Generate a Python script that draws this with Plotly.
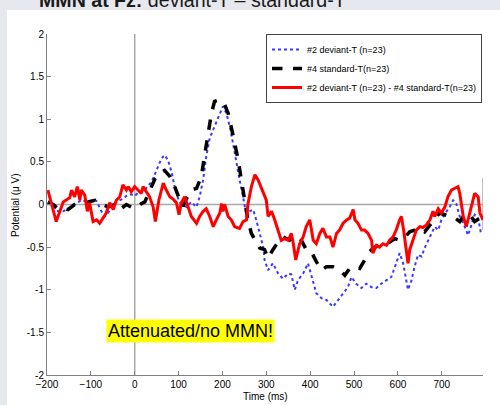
import plotly.graph_objects as go

# ---------------- data ----------------
dev_t = [-198,-186,-175,-163,-152,-137,-122,-106,-95,-87,-76,-68,-61,-49,-42,-30,-19,-8,0,8,15,23,30,38,46,53,61,68,76,84,91,99,106,118,129,141,148,156,163,171,182,194,201,209,217,224,232,239,247,255,262,270,277,285,293,296,304,315,327,338,350,357,365,372,384,395,403,414,426,437,452,464,475,486,494,505,517,528,540,551,562,574,585,596,604,612,619,623,631,638,646,654,661,673,684,692,699,711,718,726,733,741,749,760,768,775,783,790]
dev_v = [0.02,-0.02,-0.08,-0.08,-0.05,0.0,0.05,0.03,0.06,0.04,-0.08,-0.14,-0.1,0.0,0.03,0.06,0.1,0.12,0.1,0.14,0.14,0.17,0.22,0.26,0.36,0.45,0.54,0.58,0.52,0.38,0.21,0.07,0.0,-0.03,0.03,-0.03,0.09,0.29,0.56,0.78,0.91,1.07,1.15,1.07,0.91,0.72,0.48,0.29,0.09,-0.14,-0.08,-0.06,-0.18,-0.34,-0.5,-0.65,-0.77,-0.69,-0.81,-0.87,-0.81,-0.82,-1.0,-0.89,-0.81,-0.69,-0.85,-1.04,-1.1,-1.12,-1.2,-1.12,-1.04,-0.97,-0.85,-0.93,-0.98,-0.93,-0.97,-0.98,-0.93,-0.89,-0.85,-0.69,-0.57,-0.69,-0.89,-1.0,-0.89,-0.73,-0.59,-0.61,-0.51,-0.38,-0.26,-0.3,-0.18,-0.08,-0.03,0.05,0.01,-0.14,-0.22,-0.36,-0.22,-0.12,-0.16,-0.36]

std_t = [-198,-186,-175,-163,-152,-137,-122,-106,-91,-76,-61,-46,-34,-19,-8,4,15,23,34,46,57,68,80,91,103,110,118,129,141,152,160,167,175,182,194,205,213,220,228,236,243,251,258,266,274,285,296,304,315,327,338,353,369,380,391,402,414,426,437,452,467,479,490,502,513,524,536,547,559,570,582,593,604,616,627,638,650,661,673,684,695,707,718,730,741,752,764,775,787,794]
std_v = [0.03,0.0,-0.05,-0.04,-0.06,0.0,0.01,0.03,0.05,0.01,-0.03,0.0,-0.06,0.0,-0.03,-0.04,0.01,0.03,0.15,0.3,0.37,0.4,0.33,0.21,0.05,-0.02,0.07,0.17,0.19,0.33,0.6,0.84,1.07,1.21,1.23,1.17,1.07,0.91,0.72,0.52,0.29,0.05,-0.18,-0.34,-0.42,-0.51,-0.53,-0.63,-0.53,-0.44,-0.38,-0.42,-0.36,-0.42,-0.53,-0.55,-0.67,-0.77,-0.73,-0.73,-0.77,-0.83,-0.75,-0.73,-0.75,-0.65,-0.55,-0.5,-0.48,-0.46,-0.44,-0.4,-0.42,-0.38,-0.32,-0.3,-0.28,-0.32,-0.24,-0.18,-0.1,-0.12,-0.14,-0.16,-0.2,-0.12,-0.12,-0.2,-0.16,-0.17]

diff_t = [-198,-179,-163,-148,-144,-137,-131,-125,-122,-114,-108,-103,-95,-87,-80,-72,-65,-57,-49,-42,-34,-27,-19,-15,-8,0,8,15,19,27,34,42,47,55,65,72,80,88,95,101,106,114,122,129,141,148,156,163,171,179,186,194,198,201,205,213,220,228,239,247,255,258,266,274,281,289,296,300,304,312,319,327,334,342,350,357,361,367,376,384,391,399,407,414,422,429,437,445,452,460,467,475,483,490,498,502,509,517,524,532,540,543,551,558,566,574,581,589,596,604,608,613,619,623,627,635,642,650,657,665,673,680,684,692,699,707,714,722,730,737,741,749,756,764,771,775,783,787,794]
diff_v = [0.17,-0.2,0.03,0.08,0.17,0.09,0.21,0.05,0.17,0.11,-0.08,0.02,-0.2,-0.18,-0.22,-0.16,-0.1,0.02,-0.06,0.05,0.09,0.23,0.17,0.21,0.15,0.21,0.17,0.13,0.21,0.15,0.09,-0.03,-0.2,0.05,0.25,0.17,0.09,0.06,0.02,-0.12,0.02,0.09,-0.04,-0.14,-0.22,-0.14,-0.08,-0.05,-0.14,-0.26,-0.18,-0.1,0.01,-0.08,0.0,-0.14,-0.18,-0.26,-0.28,-0.2,-0.18,0.0,0.21,0.35,0.29,0.19,0.09,0.05,-0.14,-0.08,-0.18,-0.3,-0.42,-0.4,-0.42,-0.34,-0.44,-0.65,-0.46,-0.38,-0.26,-0.18,-0.42,-0.46,-0.34,-0.28,-0.38,-0.38,-0.5,-0.34,-0.3,-0.22,-0.18,-0.16,-0.06,-0.18,-0.22,-0.3,-0.3,-0.34,-0.42,-0.57,-0.48,-0.5,-0.46,-0.48,-0.42,-0.38,-0.3,-0.18,-0.14,-0.3,-0.5,-0.69,-0.53,-0.42,-0.3,-0.26,-0.27,-0.24,-0.18,-0.08,-0.14,-0.05,-0.1,-0.03,0.09,0.17,0.19,0.21,0.13,-0.14,-0.26,-0.1,0.07,0.13,0.09,-0.1,-0.18]

names = ["#2 deviant-T (n=23)", "#4 standard-T(n=23)", "#2 deviant-T (n=23) - #4 standard-T(n=23)"]
x_ticks = [-200, -100, 0, 100, 200, 300, 400, 500, 600, 700]
y_ticks = [-2, -1.5, -1, -0.5, 0, 0.5, 1, 1.5, 2]
y_tick_text = ["-2", "-1.5", "-1", "-0.5", "0", "0.5", "1", "1.5", "2"]
X_RANGE = [-200, 794]
Y_RANGE = [-2, 2]

FONT = "Liberation Sans, Arial, Helvetica, sans-serif"
AXC = "#808080"

fig = go.Figure()
fig.add_trace(go.Scatter(x=dev_t, y=dev_v, mode="lines", name=names[0],
                         line=dict(color="#3a3aff", width=2, dash="dot")))
fig.add_trace(go.Scatter(x=std_t, y=std_v, mode="lines", name=names[1],
                         line=dict(color="black", width=3.5, dash="dash")))
fig.add_trace(go.Scatter(x=diff_t, y=diff_v, mode="lines", name=names[2],
                         line=dict(color="#ff0000", width=3)))

L, T, R, B = 47, 34, 17, 30
W, H = 500, 405
pw, ph = W - L - R, H - T - B
def px2x(px): return (px - L) / pw
def py2y(py): return (H - B - py) / ph

shapes = [
    dict(type="line", xref="x", yref="y", x0=0, x1=0, y0=-2, y1=2,
         line=dict(color="#a8a8a8", width=1.5), layer="below"),
    dict(type="line", xref="x", yref="y", x0=X_RANGE[0], x1=X_RANGE[1], y0=0, y1=0,
         line=dict(color="#a8a8a8", width=1.5), layer="below"),
    dict(type="line", xref="x", yref="y", x0=X_RANGE[1], x1=X_RANGE[1], y0=0.31, y1=-0.3,
         line=dict(color="#a8a8a8", width=1.5), layer="below"),
    dict(type="rect", xref="paper", yref="paper", x0=px2x(0), x1=px2x(7), y0=py2y(405), y1=py2y(0),
         fillcolor="#e7e8ed", line=dict(width=0), layer="below"),
    dict(type="rect", xref="paper", yref="paper", x0=px2x(0), x1=px2x(500), y0=py2y(10), y1=py2y(0),
         fillcolor="#e7e8ed", line=dict(width=0), layer="below"),
]

annotations = [
    dict(text="Attenuated/no MMN!", x=px2x(190.5), y=py2y(330.5), xref="paper", yref="paper",
         xanchor="center", yanchor="middle",
         showarrow=False, bgcolor="#ffff00", font=dict(family=FONT, size=18, color="black"),
         borderpad=1),
    dict(text="Potential (μ V)", x=px2x(15), y=py2y(205), xref="paper", yref="paper",
         xanchor="center", yanchor="middle",
         showarrow=False, textangle=-90, font=dict(family=FONT, size=10, color="black")),
    dict(text="Time (ms)", x=px2x(265), y=py2y(396), xref="paper", yref="paper",
         xanchor="center", yanchor="middle",
         showarrow=False, font=dict(family=FONT, size=10, color="black")),
    dict(text="<b>MMN at Fz:</b> deviant-T – standard-T", x=px2x(37), y=py2y(13),
         xref="paper", yref="paper", xanchor="left", yanchor="bottom", showarrow=False,
         font=dict(family=FONT, size=19.6, color="#1a1a1a")),
]

fig.update_layout(
    width=W, height=H,
    margin=dict(l=L, r=R, t=T, b=B, autoexpand=False),
    paper_bgcolor="white", plot_bgcolor="white",
    font=dict(family=FONT, size=10, color="black"),
    shapes=shapes, annotations=annotations,
    legend=dict(x=px2x(482), y=1.0, xanchor="right", yanchor="top",
                bgcolor="white", bordercolor="#444", borderwidth=1,
                font=dict(family=FONT, size=9, color="black"),
                itemwidth=30, tracegroupgap=0),
    xaxis=dict(range=X_RANGE, tickvals=x_ticks, ticks="inside", ticklen=4, tickcolor=AXC,
               showline=True, linecolor=AXC, linewidth=1, showgrid=False, zeroline=False,
               automargin=False, tickfont=dict(family=FONT, size=10, color="black")),
    yaxis=dict(range=Y_RANGE, tickvals=y_ticks, ticktext=y_tick_text, ticks="inside", ticklen=4,
               tickcolor=AXC, showline=True, linecolor=AXC, linewidth=1, showgrid=False,
               zeroline=False, automargin=False,
               tickfont=dict(family=FONT, size=10, color="black")),
    showlegend=True,
)

fig.write_html("out.html")
